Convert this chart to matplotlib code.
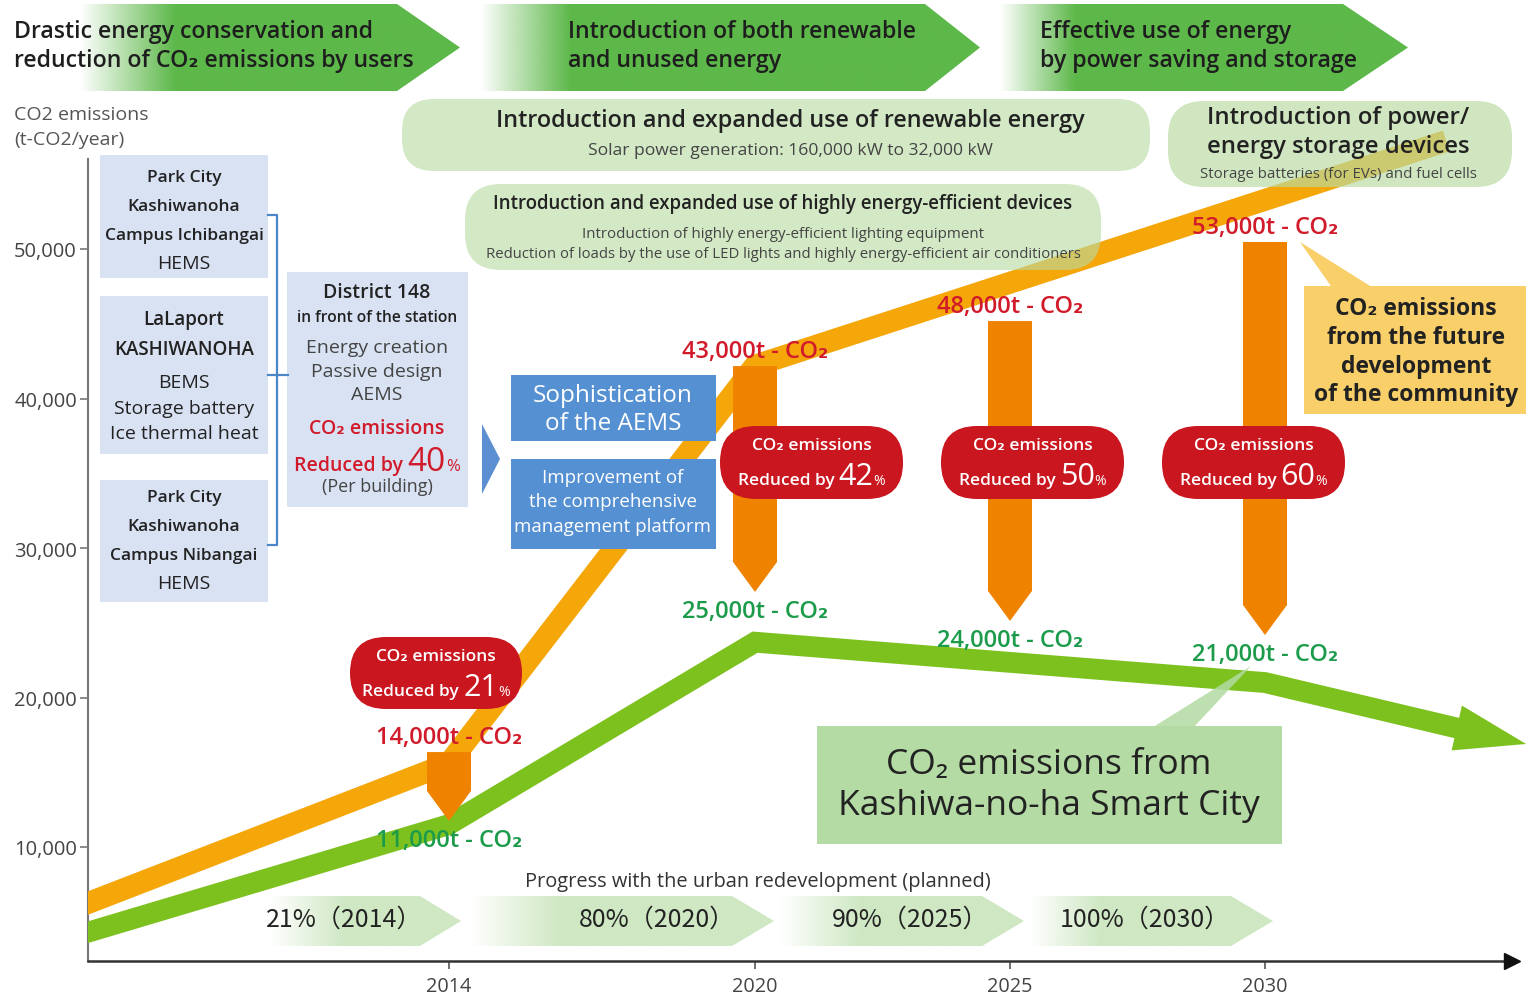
import numpy as np
import matplotlib
matplotlib.use('Agg')
import matplotlib.pyplot as plt
import matplotlib.colors as mcolors
from matplotlib.patches import Polygon, FancyBboxPatch, Rectangle
from matplotlib.transforms import Affine2D, IdentityTransform

plt.rcParams['font.family'] = ['Open Sans', 'DejaVu Sans']

# ---------------- data ----------------
orange_years = [2006.92, 2014, 2020, 2033.35]
orange_values = [6250, 15600, 42200, 57000]
green_years = [2006.92, 2014, 2020, 2030, 2033.76]
green_values = [4300, 11500, 23700, 21000, 17960]
green_tip_year = 2035.12
green_tip_value = 16890

arrow_years = [2014, 2020, 2025, 2030]
arrow_top = [16350, 42170, 45180, 50470]
arrow_tip = [11740, 27060, 25120, 24180]
before_labels = ['14,000t - CO₂', '43,000t - CO₂', '48,000t - CO₂', '53,000t - CO₂']
after_labels = ['11,000t - CO₂', '25,000t - CO₂', '24,000t - CO₂', '21,000t - CO₂']
reduction_pct = ['21', '42', '50', '60']

year_ticks = [2014, 2020, 2025, 2030]
value_ticks = [10000, 20000, 30000, 40000, 50000]

phase_titles = [["Drastic energy conservation and", "reduction of CO₂ emissions by users"],
                ["Introduction of both renewable", "and unused energy"],
                ["Effective use of energy", "by power saving and storage"]]
progress_labels = ['21%（2014）', '80%（2020）', '90%（2025）', '100%（2030）']

# ---------------- figure / layout ----------------
W, H = 1526, 995
fig = plt.figure(figsize=(W / 100, H / 100), dpi=100)

PX = Affine2D().scale(1 / W, -1 / H).translate(0, 1) + fig.transFigure

# pixel geometry of the plotting frame
AX_L, AX_R, AX_B, AX_T = 88, 1526, 962, 0
YEAR0_PX, PX_PER_YEAR = 449, 51.0
V_SCALE, V0_PX = 0.01495, 997.5


def px_to_year(px):
    return 2014 + (px - YEAR0_PX) / PX_PER_YEAR


def py_to_val(py):
    return (V0_PX - py) / V_SCALE


# background axes (pixel coords) for gradient chevrons
bg = fig.add_axes([0, 0, 1, 1], zorder=0)
bg.axis('off')

ax = fig.add_axes([AX_L / W, (H - AX_B) / H, (AX_R - AX_L) / W, (AX_B - AX_T) / H], zorder=1)
ax.patch.set_alpha(0)
ax.set_autoscale_on(False)
ax.set_xlim(px_to_year(AX_L), px_to_year(AX_R))
ax.set_ylim(py_to_val(AX_B), py_to_val(AX_T))

GREEN_BAN = '#5DB84A'


def grad_shape(verts, color, f0, f1, z=1):
    poly = Polygon(verts, closed=True, fc='none', ec='none', transform=bg.transData)
    bg.add_patch(poly)
    xs = [v[0] for v in verts]
    ys = [v[1] for v in verts]
    x0, x1, y0, y1 = min(xs), max(xs), min(ys), max(ys)
    n = int(x1 - x0) + 1
    xx = np.linspace(x0, x1, n)
    a = np.clip((xx - f0) / (f1 - f0), 0, 1)
    img = np.zeros((2, n, 4))
    img[..., :3] = mcolors.to_rgb(color)
    img[..., 3] = a
    im = bg.imshow(img, extent=(x0, x1, y1, y0), aspect='auto', interpolation='bilinear', zorder=z)
    im.set_clip_path(poly)


def T(x, y, s, size, color='#222', weight='normal', ha='center', va='center', z=8, family=None):
    kw = {}
    if family:
        kw['family'] = family
    return ax.text(x, y, s, transform=PX, fontsize=size, color=color, fontweight=weight,
                   ha=ha, va=va, zorder=z, clip_on=False, **kw)


def box(x0, y0, x1, y1, fc, r=0, z=4, alpha=1.0):
    if r > 0:
        p = FancyBboxPatch((x0, y0), x1 - x0, y1 - y0, boxstyle=f"round,pad=0,rounding_size={r}",
                           transform=PX, fc=fc, ec='none', lw=0, alpha=alpha, zorder=z, clip_on=False)
    else:
        p = Rectangle((x0, y0), x1 - x0, y1 - y0, transform=PX, fc=fc, ec='none', lw=0,
                      alpha=alpha, zorder=z, clip_on=False)
    ax.add_patch(p)


def poly_px(verts, fc, z=4, alpha=1.0):
    ax.add_patch(Polygon(verts, closed=True, transform=PX, fc=fc, ec='none', lw=0, alpha=alpha,
                         zorder=z, clip_on=False))


renderer = fig.canvas.get_renderer()


def rich(xc, yb, parts, color, z=8, gaps=(4, 1)):
    objs = []
    for s, size, w in parts:
        objs.append(T(0, yb, s, size, color=color, weight=w, ha='left', va='baseline', z=z))
    widths = [o.get_window_extent(renderer).width for o in objs]
    gl = list(gaps) + [0]
    total = sum(widths) + sum(gaps[:len(objs) - 1])
    x = xc - total / 2
    for o, wd, g in zip(objs, widths, gl):
        o.set_x(x)
        x += wd + g


# ---------------- top phase banners ----------------
banners = [(0, 397, 460, 80, 175, 14), (480, 925, 980, 480, 570, 568), (1000, 1343, 1408, 1000, 1075, 1040)]
for (x0, xs, xt, f0, f1, tx), lines in zip(banners, phase_titles):
    grad_shape([(x0, 5), (xs, 5), (xt, 48.5), (xs, 92), (x0, 92)], GREEN_BAN, f0, f1)
    T(tx, 32, lines[0], 16.7, '#1e1e1e', 'semibold', ha='left')
    T(tx, 61, lines[1], 16.7, '#1e1e1e', 'semibold', ha='left')

# ---------------- progress chevrons ----------------
chevrons = [(270, 420, 461, 270, 345, 344), (470, 732, 774, 470, 560, 657),
            (780, 982, 1024, 780, 860, 910), (1030, 1231, 1273, 1030, 1100, 1145)]
for (x0, xs, xt, f0, f1, tx), lab in zip(chevrons, progress_labels):
    grad_shape([(x0, 897), (xs, 897), (xt, 922), (xs, 947), (x0, 947)], '#CFE8C3', f0, f1)
    T(tx, 920, lab, 18, '#222', 'normal', family=['Noto Sans CJK JP', 'DejaVu Sans'])
T(758, 882, 'Progress with the urban redevelopment (planned)', 14.4, '#333')

bg.set_xlim(0, W)
bg.set_ylim(H, 0)

# ---------------- axes styling ----------------
for s in ['top', 'right']:
    ax.spines[s].set_visible(False)
ax.spines['left'].set_bounds(py_to_val(AX_B), py_to_val(160))
ax.spines['left'].set_color('#777')
ax.spines['left'].set_linewidth(1.5)
ax.spines['bottom'].set_bounds(px_to_year(AX_L), px_to_year(1505))
ax.spines['bottom'].set_color('#333')
ax.spines['bottom'].set_linewidth(1.8)
ax.plot([px_to_year(1512)], [py_to_val(AX_B)], marker='>', ms=11, color='#111', clip_on=False, zorder=3)

ax.set_yticks(value_ticks)
ax.set_yticklabels([f'{v:,}' for v in value_ticks])
ax.set_xticks(year_ticks)
ax.set_xticklabels([str(y) for y in year_ticks])
ax.tick_params(axis='y', direction='out', length=6, width=1.2, color='#777', labelsize=14.5,
               labelcolor='#444', pad=2)
ax.tick_params(axis='x', direction='out', length=6, width=1.2, color='#555', labelsize=14.3,
               labelcolor='#444', pad=5)

T(14, 115, 'CO2 emissions', 14, '#555', ha='left')
T(14, 140, '(t-CO2/year)', 14, '#555', ha='left')

# ---------------- emission lines ----------------
ORANGE_LINE = '#F5A70A'
GREEN_LINE = '#7DC11F'
ax.plot(orange_years, orange_values, color=ORANGE_LINE, lw=15.8, solid_capstyle='projecting',
        solid_joinstyle='miter', zorder=3)
ax.plot(green_years, green_values, color=GREEN_LINE, lw=15, solid_capstyle='projecting',
        solid_joinstyle='miter', zorder=3)
bx, by = ax.transData.transform((green_years[-1], green_values[-1]))
tx_, ty_ = ax.transData.transform((green_tip_year, green_tip_value))
u = np.array([tx_ - bx, ty_ - by])
u = u / np.hypot(*u)
nrm = np.array([-u[1], u[0]])
hw = 23
ax.add_patch(Polygon([(bx + nrm[0] * hw, by + nrm[1] * hw), (tx_, ty_), (bx - nrm[0] * hw, by - nrm[1] * hw)],
                     closed=True, transform=IdentityTransform(), fc=GREEN_LINE, ec='none', zorder=3,
                     clip_on=False))

# ---------------- reduction arrows & labels ----------------
ARROW_C = '#EF8300'
for yr, top, tip, lb, la in zip(arrow_years, arrow_top, arrow_tip, before_labels, after_labels):
    x, yt = ax.transData.transform((yr, top))
    _, yb = ax.transData.transform((yr, tip))
    w, head = 44, 30
    ax.add_patch(Polygon([(x - w / 2, yt), (x + w / 2, yt), (x + w / 2, yb + head), (x, yb),
                          (x - w / 2, yb + head)], closed=True, transform=IdentityTransform(),
                         fc=ARROW_C, ec='none', zorder=5, clip_on=False))
    ax.annotate(lb, xy=(yr, top), xytext=(0, 15), textcoords='offset pixels', ha='center', va='center',
                fontsize=17, color='#D11A2A', fontweight='semibold', zorder=7, annotation_clip=False)
    ax.annotate(la, xy=(yr, tip), xytext=(0, -19), textcoords='offset pixels', ha='center', va='center',
                fontsize=17, color='#1C9B4B', fontweight='semibold', zorder=7, annotation_clip=False)

# red reduction pills
pills = [(350, 522, 638, 710), (720, 903, 427, 500), (941, 1124, 427, 500), (1162, 1345, 427, 500)]
for (x0, x1, y0, y1), pct in zip(pills, reduction_pct):
    box(x0, y0, x1, y1, '#C9161F', r=36, z=6)
    xc = (x0 + x1) / 2
    T(xc, y0 + 19, 'CO₂ emissions', 12.5, 'white', 'semibold', z=7)
    rich(xc, y0 + 58, [('Reduced by', 12.5, 'semibold'), (pct, 22, 'normal'), ('%', 10, 'normal')],
         'white', z=7, gaps=(4, 0))

# ---------------- light green measure boxes ----------------
BOXG = '#B9DBA2'
box(402, 100, 1150, 172, BOXG, r=32, z=4, alpha=0.62)
T(790, 121, 'Introduction and expanded use of renewable energy', 16.8, '#222', 'semibold', z=5)
T(790, 151, 'Solar power generation: 160,000 kW to 32,000 kW', 12.6, '#444', z=5)

box(1168, 102, 1512, 188, BOXG, r=36, z=4, alpha=0.68)
T(1338, 118, 'Introduction of power/', 17.2, '#222', 'semibold', z=5)
T(1338, 147, 'energy storage devices', 17.2, '#222', 'semibold', z=5)
T(1338, 175, 'Storage batteries (for EVs) and fuel cells', 10.8, '#444', z=5)

box(465, 185, 1101, 271, BOXG, r=36, z=4, alpha=0.62)
T(783, 204, 'Introduction and expanded use of highly energy-efficient devices', 13.4, '#222', 'semibold', z=5)
T(783, 234, 'Introduction of highly energy-efficient lighting equipment', 10.9, '#444', z=5)
T(783, 255, 'Reduction of loads by the use of LED lights and highly energy-efficient air conditioners',
  10.7, '#444', z=5)

# ---------------- left building boxes ----------------
LB = '#D9E2F3'
box(100, 156, 268, 279, LB)
box(100, 297, 268, 455, LB)
box(100, 481, 268, 603, LB)
box(287, 273, 468, 508, LB)
for y, s, sz, w in [(178, 'Park City', 12.5, 'semibold'), (207, 'Kashiwanoha', 12.5, 'semibold'),
                    (236, 'Campus Ichibangai', 12.5, 'semibold'), (264, 'HEMS', 14, 'normal'),
                    (320, 'LaLaport', 13.5, 'semibold'), (350, 'KASHIWANOHA', 13.5, 'semibold'),
                    (383, 'BEMS', 14, 'normal'), (409, 'Storage battery', 14, 'normal'),
                    (434, 'Ice thermal heat', 14, 'normal'),
                    (498, 'Park City', 12.5, 'semibold'), (527, 'Kashiwanoha', 12.5, 'semibold'),
                    (556, 'Campus Nibangai', 12.5, 'semibold'), (584, 'HEMS', 14, 'normal')]:
    T(184, y, s, sz, '#222', w)

BR = '#4A86C8'
ax.plot([268, 277, 277, 268], [216, 216, 546, 546], transform=PX, color=BR, lw=1.6, clip_on=False, zorder=4)
ax.plot([268, 288], [376, 376], transform=PX, color=BR, lw=1.6, clip_on=False, zorder=4)

for y, s, sz, w, c in [(293, 'District 148', 14, 'semibold', '#222'),
                       (318, 'in front of the station', 11.2, 'semibold', '#222'),
                       (348, 'Energy creation', 14, 'normal', '#444'),
                       (372, 'Passive design', 14, 'normal', '#444'),
                       (395, 'AEMS', 14, 'normal', '#444'),
                       (429, 'CO₂ emissions', 14, 'semibold', '#D11A2A'),
                       (487, '(Per building)', 13, 'normal', '#444')]:
    T(377, y, s, sz, c, w)
rich(377, 471, [('Reduced by', 14, 'semibold'), ('40', 24, 'normal'), ('%', 12, 'normal')], '#D11A2A',
     gaps=(4, 0))

poly_px([(482, 425), (500, 460), (482, 495)], '#5B8FD1')

# ---------------- AEMS boxes ----------------
AB = '#5590D3'
box(511, 376, 716, 442, AB)
box(511, 460, 716, 550, AB)
T(613, 396, 'Sophistication', 17.5, 'white')
T(613, 424, 'of the AEMS', 17.5, 'white')
T(613, 478, 'Improvement of', 13.5, 'white')
T(613, 502, 'the comprehensive', 13.5, 'white')
T(613, 527, 'management platform', 13.5, 'white')

# ---------------- callouts ----------------
YB = '#F9CF6A'
poly_px([(1333, 290), (1375, 290), (1300, 243)], YB)
box(1304, 287, 1526, 415, YB)
for y, s in [(309, 'CO₂ emissions'), (338, 'from the future'), (367, 'development'), (395, 'of the community')]:
    T(1416, y, s, 16.5, '#222', 'bold')

CG = '#B3DBA3'
poly_px([(1150, 730), (1192, 730), (1251, 667)], CG, z=4, alpha=0.85)
box(817, 727, 1282, 845, CG)
T(1049, 765, 'CO₂ emissions from', 25.5, '#222')
T(1049, 806, 'Kashiwa-no-ha Smart City', 25.5, '#222')

fig.savefig('out.png', dpi=100)
